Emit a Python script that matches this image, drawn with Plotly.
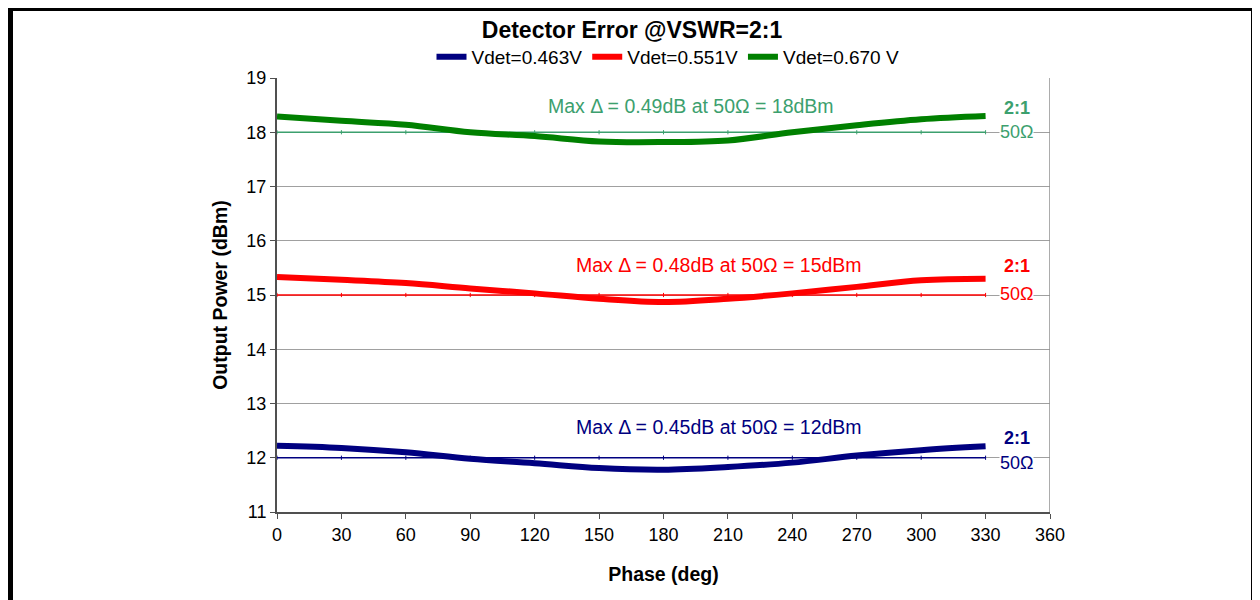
import plotly.graph_objects as go

phase = [0, 30, 60, 90, 120, 150, 180, 210, 240, 270, 300, 330]
p_0463 = [12.22, 12.18, 12.10, 11.98, 11.90, 11.81, 11.78, 11.83, 11.91, 12.04, 12.14, 12.21]
p_0551 = [15.33, 15.28, 15.22, 15.12, 15.03, 14.93, 14.87, 14.93, 15.03, 15.15, 15.27, 15.30]
p_0670 = [18.29, 18.21, 18.14, 18.00, 17.93, 17.83, 17.82, 17.85, 18.00, 18.13, 18.24, 18.30]
ref_levels = [12, 15, 18]
series_names = ["Vdet=0.463V", "Vdet=0.551V", "Vdet=0.670 V"]
colors = ["#000080", "#FF0000", "#008000"]
text_colors = ["#000080", "#FF0000", "#3CA06E"]
notes = ["Max Δ = 0.45dB at 50Ω = 12dBm",
         "Max Δ = 0.48dB at 50Ω = 15dBm",
         "Max Δ = 0.49dB at 50Ω = 18dBm"]
note_pos = [(205.8, 12.57), (205.8, 15.55), (192.8, 18.48)]
ratio_pos = [12.36, 15.53, 18.45]
ohm_pos = [11.90, 15.02, 18.0]
label_x = 344.6

FONT = "Arial, Liberation Sans, sans-serif"
OFF = 8  # page body margin
FW, FH = 1260 - OFF, 600 - OFF
L, R, T, B = 277 - OFF, 1050 - OFF, 78 - OFF, 512 - OFF
W = R - L
H = B - T
def px(xp):
    return (xp - OFF - L) / W
def py(yp):
    return (B - (yp - OFF)) / H

fig = go.Figure()
for lvl, tc in zip(ref_levels, text_colors):
    fig.add_trace(go.Scatter(
        x=phase, y=[lvl] * len(phase), mode="lines+markers",
        line=dict(color=tc, width=1.5),
        marker=dict(symbol="line-ns", size=3, line=dict(color=tc, width=1)),
        showlegend=False, hoverinfo="skip"))

for ys, name, c in zip([p_0463, p_0551, p_0670], series_names, colors):
    fig.add_trace(go.Scatter(
        x=phase, y=ys, mode="lines", name=name,
        line=dict(color=c, width=6, shape="spline", smoothing=1)))

annos = []
for txt, (ax, ay), tc in zip(notes, note_pos, text_colors):
    annos.append(dict(x=ax, y=ay, xref="x", yref="y", text=txt, showarrow=False,
                      font=dict(family=FONT, size=19.5, color=tc)))
for ry, oy, tc in zip(ratio_pos, ohm_pos, text_colors):
    annos.append(dict(x=label_x, y=ry, xref="x", yref="y", text="<b>2:1</b>", showarrow=False,
                      font=dict(family=FONT, size=18, color=tc)))
    annos.append(dict(x=label_x, y=oy, xref="x", yref="y", text="50Ω", showarrow=False,
                      bgcolor="white", borderpad=0,
                      font=dict(family=FONT, size=18, color=tc)))

shapes = [
    dict(type="line", xref="x", yref="y", x0=360, x1=360, y0=11, y1=19,
         line=dict(color="#909090", width=1.5)),
    dict(type="rect", xref="paper", yref="paper",
         x0=px(10), x1=px(1254), y0=py(8), y1=py(660),
         line=dict(color="black", width=6), fillcolor="rgba(0,0,0,0)"),
]

fig.update_layout(
    width=FW, height=FH,
    margin=dict(l=L, r=FW - R, t=T, b=FH - B),
    paper_bgcolor="white", plot_bgcolor="white",
    font=dict(family=FONT, size=18, color="black"),
    title=dict(text="<b>Detector Error @VSWR=2:1</b>", x=(632 - OFF) / FW, xanchor="center",
               y=1 - (30 - OFF) / FH, yanchor="middle",
               font=dict(size=23, family=FONT)),
    legend=dict(orientation="h", x=px(668), xanchor="center", y=py(57), yanchor="middle",
                font=dict(size=19), bgcolor="rgba(0,0,0,0)", itemwidth=30,
                tracegroupgap=0),
    xaxis=dict(range=[0, 360], tickmode="linear", tick0=0, dtick=30,
               showgrid=False, zeroline=False, showline=True, linecolor="#505050", linewidth=2,
               ticks="outside", ticklen=5, tickcolor="#505050",
               tickfont=dict(size=18),
               title=dict(text="<b>Phase (deg)</b>", font=dict(size=19.5), standoff=24)),
    yaxis=dict(range=[11, 19], tickmode="linear", tick0=11, dtick=1,
               showgrid=True, gridcolor="#A0A0A0", gridwidth=1, zeroline=False,
               showline=True, linecolor="#505050", linewidth=2,
               ticks="outside", ticklen=5, tickcolor="#505050",
               tickfont=dict(size=18),
               title=dict(text="<b>Output Power (dBm)</b>", font=dict(size=19.5), standoff=14)),
    annotations=annos,
    shapes=shapes,
    showlegend=True,
)

fig.write_html("out.html")
